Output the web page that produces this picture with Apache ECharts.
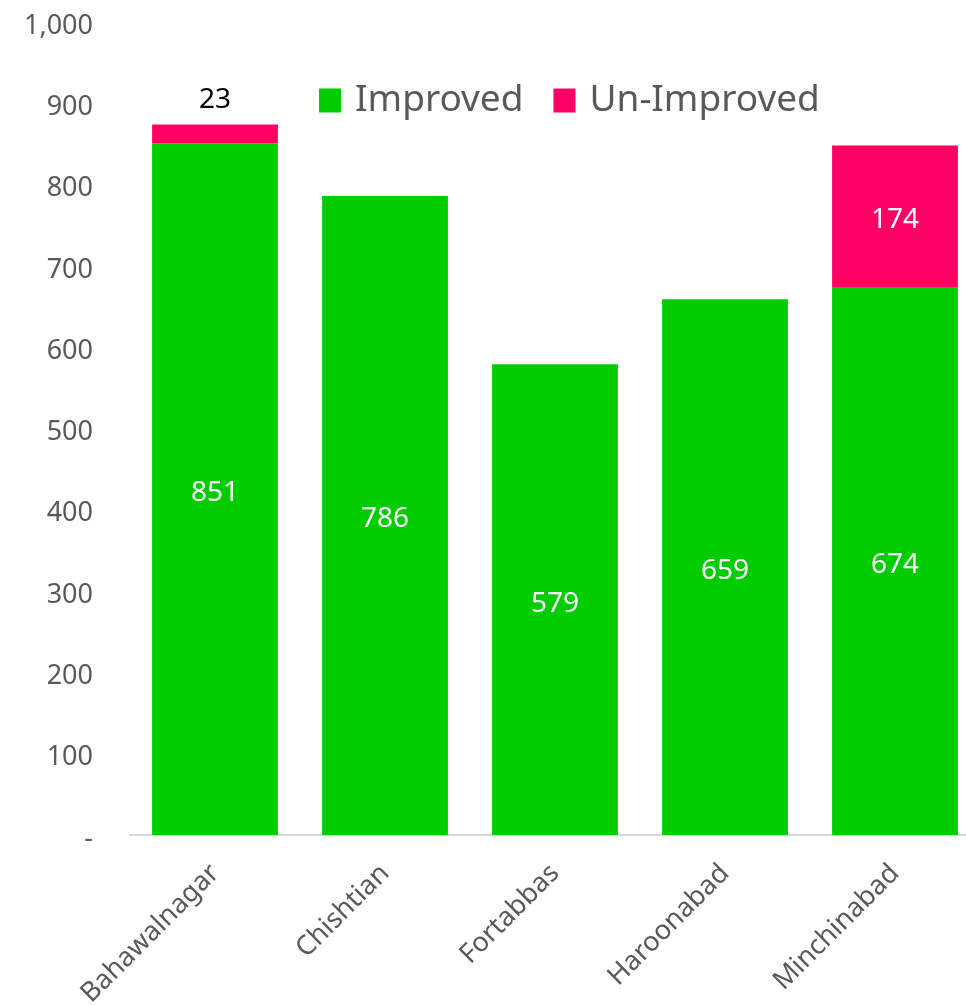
<!DOCTYPE html>
<html>
<head>
<meta charset="utf-8">
<script src="https://cdn.jsdelivr.net/npm/echarts@6/dist/echarts.min.js"></script>
<style>
  html, body { margin: 0; padding: 0; background: #fff; }
  #chart { width: 966px; height: 1005px; }
</style>
</head>
<body>
<div id="chart"></div>
<script>
const categories = ['Bahawalnagar', 'Chishtian', 'Fortabbas', 'Haroonabad', 'Minchinabad'];
const improved = [851, 786, 579, 659, 674];
const unImproved = [23, 0, 0, 0, 174];
const yTicks = { min: 0, max: 1000, interval: 100 };

const font = 'Noto Sans';
const chart = echarts.init(document.getElementById('chart'));

// small segment gets its label above the bar in black, big one inside in white
const unImprovedData = unImproved.map(v => {
  if (v > 0 && v < 60) {
    return { value: v, label: { position: 'top', color: '#000', distance: 10, offset: [0, 0] } };
  }
  return v;
});

chart.setOption({
  animation: false,
  textStyle: { fontFamily: font },
  legend: {
    top: 82,
    left: 319,
    padding: 0,
    itemWidth: 22,
    itemHeight: 24,
    itemGap: 30,
    icon: 'rect',
    textStyle: { fontSize: 37, color: '#595959', fontFamily: font, padding: [0, 0, 0, 9] },
    data: ['Improved', 'Un-Improved']
  },
  grid: { left: 130, right: -14, top: 22, bottom: 170, outerBoundsMode: 'none', containLabel: false },
  xAxis: {
    type: 'category',
    data: categories,
    axisLine: { lineStyle: { color: '#d9d9d9', width: 2 } },
    axisTick: { show: false },
    axisLabel: { rotate: 45, fontSize: 27, color: '#595959', margin: 34, fontFamily: font }
  },
  yAxis: {
    type: 'value',
    min: yTicks.min,
    max: yTicks.max,
    interval: yTicks.interval,
    splitLine: { show: false },
    axisLine: { show: false },
    axisTick: { show: false },
    axisLabel: {
      margin: 37,
      formatter: v => '{t|' + (v === 0 ? '-' : v.toLocaleString('en-US')) + '}',
      rich: {
        t: { fontSize: 27, color: '#595959', fontFamily: font, padding: [8, 0, 0, 0] }
      }
    }
  },
  series: [
    {
      name: 'Improved',
      type: 'bar',
      stack: 'total',
      barCategoryGap: '26%',
      itemStyle: { color: '#00cc00' },
      label: { show: true, position: 'inside', color: '#fff', fontSize: 28, fontFamily: font, offset: [0, 4] },
      data: improved
    },
    {
      name: 'Un-Improved',
      type: 'bar',
      stack: 'total',
      barCategoryGap: '26%',
      itemStyle: { color: '#ff0066' },
      label: {
        show: true, position: 'inside', color: '#fff', fontSize: 28, fontFamily: font, offset: [0, 4],
        formatter: p => p.value > 0 ? p.value : ''
      },
      data: unImprovedData
    }
  ]
});
</script>
</body>
</html>
